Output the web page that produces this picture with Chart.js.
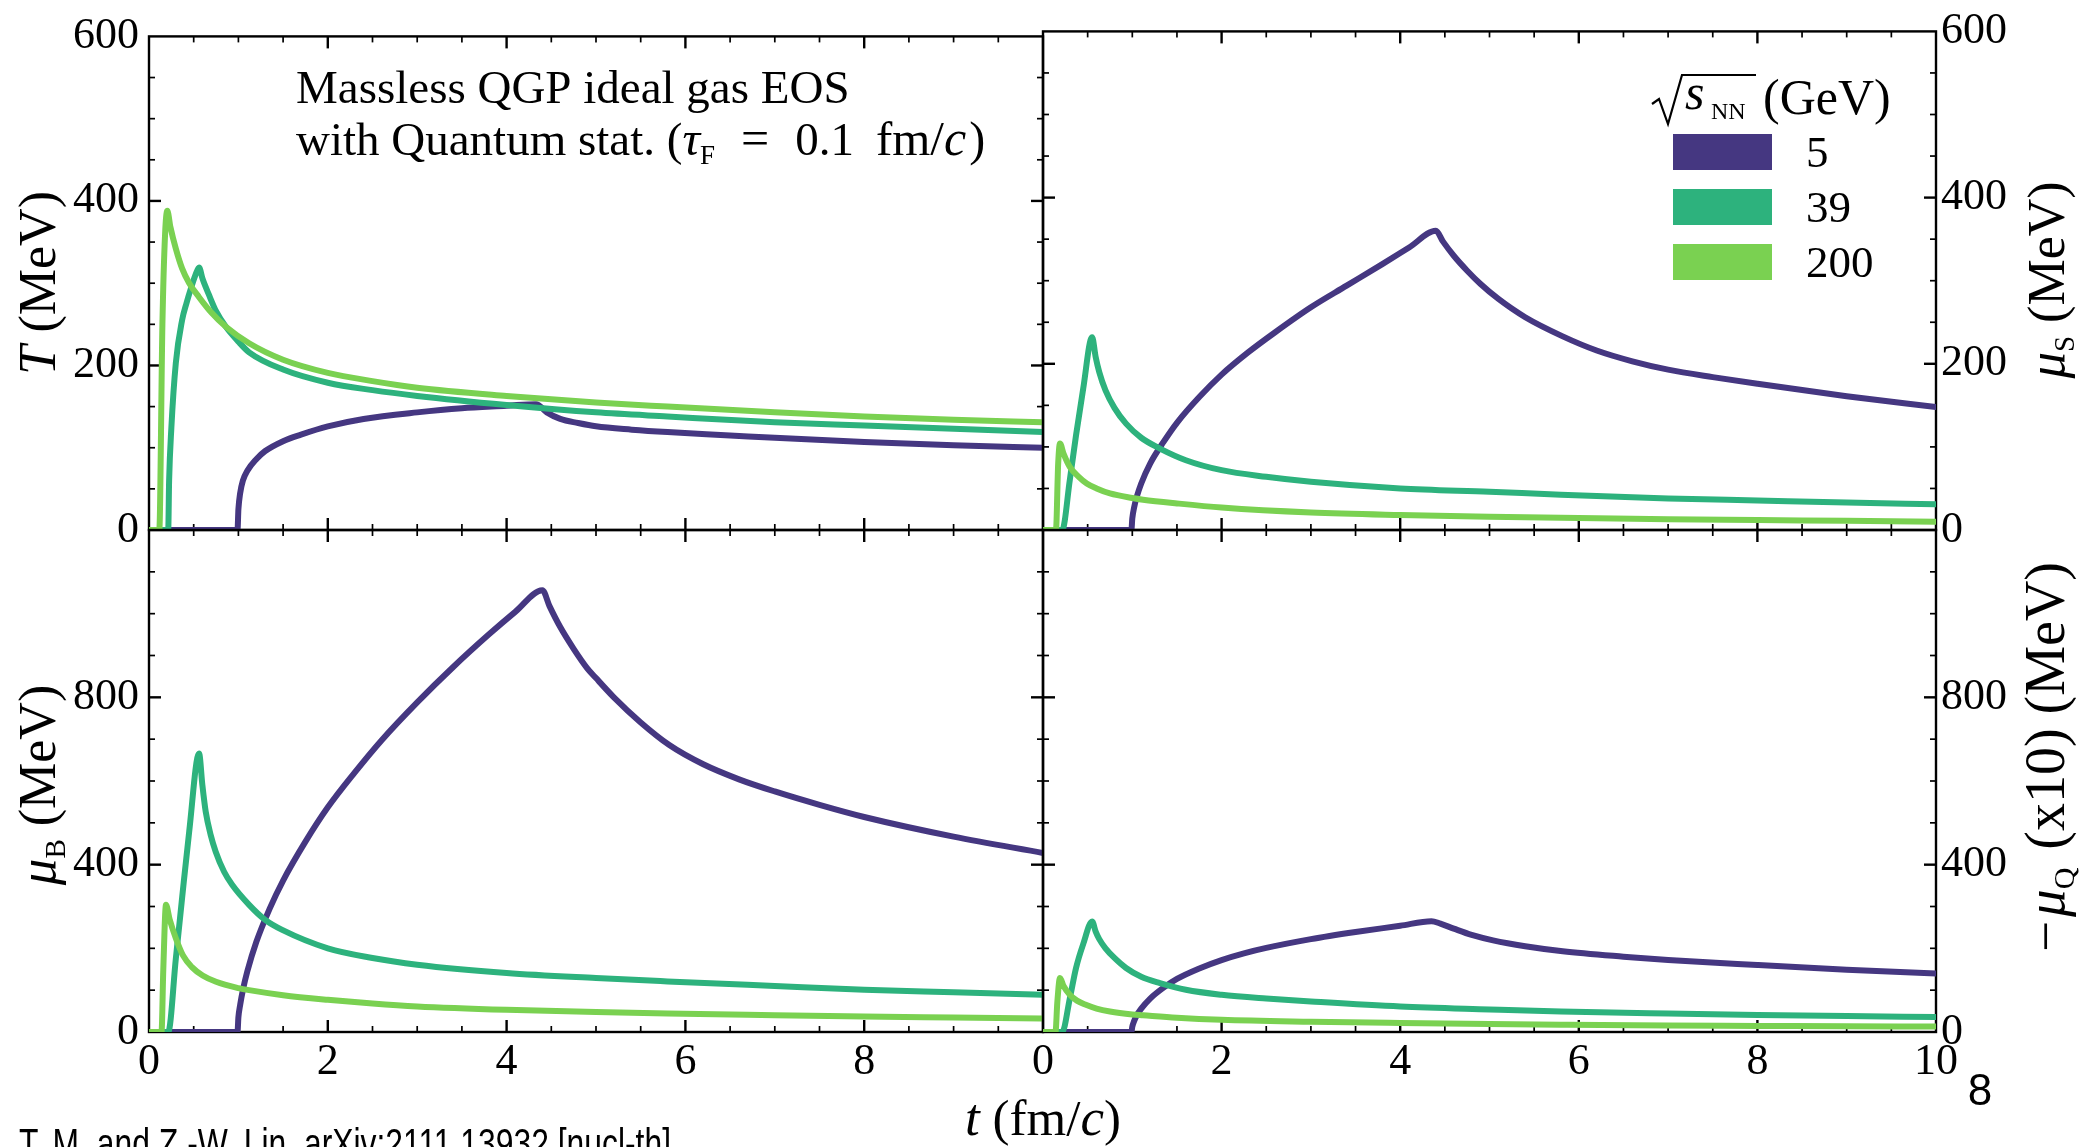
<!DOCTYPE html>
<html>
<head>
<meta charset="utf-8">
<script src="https://cdn.jsdelivr.net/npm/chart.js@4.4.1/dist/chart.umd.min.js"></script>
<style>
  html, body { margin: 0; padding: 0; background: #fff; }
  #wrap { position: relative; width: 2082px; height: 1147px; overflow: hidden; background: #fff; }
  #wrap canvas { position: absolute; left: 0; top: 0; }
</style>
</head>
<body>
<div id="wrap">
  <canvas id="cTL" width="2082" height="1147"></canvas>
  <canvas id="cTR" width="2082" height="1147"></canvas>
  <canvas id="cBL" width="2082" height="1147"></canvas>
  <canvas id="cBR" width="2082" height="1147"></canvas>
</div>
<script>
// sqrt(s_NN) energies and their colours
const ENERGIES = ['5', '39', '200'];
const COLORS = ['#453781', '#2db27d', '#7ad151'];

// tick labels
const X_TICKS_LEFT = [0, 2, 4, 6, 8];
const X_TICKS_RIGHT = [0, 2, 4, 6, 8, 10];
const Y_TICKS_TOP = [0, 200, 400, 600];
const Y_TICKS_BOTTOM = [0, 400, 800];

// T (MeV)
const tT5 = [0, 0.99, 1.0, 1.02, 1.05, 1.1, 1.2, 1.3, 1.5, 1.7, 2.0, 2.4, 3.0, 3.5, 4.0, 4.33, 4.45, 4.6, 4.8, 5.0, 5.4, 5.8, 6.5, 7, 8, 9, 10];
const valT5 = [0, 0, 25, 45, 60, 72, 86, 96, 108, 116, 126, 135, 143, 148, 151, 153, 143, 135, 130, 126, 122, 119, 115, 112, 107, 103, 100];
const tT39 = [0, 0.215, 0.225, 0.25, 0.3, 0.37, 0.42, 0.47, 0.52, 0.56, 0.6, 0.67, 0.75, 0.86, 1.0, 1.12, 1.5, 2.0, 2.5, 3.0, 4.0, 5.0, 5.8, 7, 8, 9, 10];
const valT39 = [0, 0, 60, 124, 203, 255, 276, 294, 310, 319, 305, 286, 266, 247, 229, 216, 195, 179, 170, 163, 152, 143, 138, 131, 127, 123, 119];
const tT200 = [0, 0.115, 0.15, 0.18, 0.205, 0.24, 0.3, 0.37, 0.45, 0.56, 0.7, 0.86, 1.12, 1.5, 2.0, 2.5, 3.0, 4.0, 5.0, 5.8, 7, 8, 9, 10];
const valT200 = [0, 0, 250, 360, 388, 368, 342, 318, 300, 283, 264, 247, 227, 207, 191, 181, 173, 163, 155, 150, 143, 138, 134, 131];

// mu_S (MeV)
const tS5 = [0, 0.99, 1.0, 1.02, 1.05, 1.1, 1.2, 1.35, 1.5, 1.75, 2.0, 2.3, 2.6, 3.0, 3.4, 3.8, 4.1, 4.4, 4.48, 4.6, 4.75, 4.9, 5.1, 5.4, 5.82, 6.2, 6.6, 7, 7.5, 8, 9, 10];
const valS5 = [0, 0, 14, 27, 40, 56, 80, 106, 129, 160, 187, 214, 238, 268, 294, 320, 340, 360, 347, 330, 312, 296, 278, 256, 233, 216, 203, 193, 184, 176, 161, 148];
const tS39 = [0, 0.215, 0.3, 0.37, 0.45, 0.55, 0.59, 0.63, 0.7, 0.8, 0.93, 1.1, 1.31, 1.6, 2.0, 2.5, 3.0, 4.0, 5.0, 5.8, 7, 8, 9, 10];
const valS39 = [0, 0, 60, 114, 170, 232, 208, 190, 168, 147, 128, 111, 98, 84, 72, 64, 58, 50, 46, 42.5, 38, 35.5, 33, 31];
const tS200 = [0, 0.145, 0.17, 0.19, 0.23, 0.3, 0.4, 0.49, 0.6, 0.75, 1.0, 1.12, 1.5, 2.0, 3.0, 4.0, 5.0, 5.8, 7, 8, 9, 10];
const valS200 = [0, 0, 80, 104, 92, 76, 64, 56, 50, 44, 38.5, 36.5, 32, 27, 21, 18, 16, 14.7, 13, 12, 11, 10];

// mu_B (MeV)
const tB5 = [0, 0.99, 1.0, 1.02, 1.05, 1.1, 1.2, 1.35, 1.5, 1.75, 2.0, 2.3, 2.6, 3.0, 3.4, 3.8, 4.1, 4.4, 4.48, 4.6, 4.75, 4.9, 5.0, 5.2, 5.5, 5.82, 6.2, 6.6, 7, 7.5, 8, 9, 10];
const valB5 = [0, 0, 35, 65, 100, 145, 215, 295, 362, 455, 537, 620, 697, 788, 872, 950, 1005, 1056, 1018, 968, 916, 870, 846, 800, 740, 686, 640, 604, 575, 543, 514, 467, 428];
const tB39 = [0, 0.215, 0.3, 0.37, 0.45, 0.56, 0.597, 0.634, 0.69, 0.746, 0.84, 0.93, 1.12, 1.3, 1.49, 2.0, 2.5, 3.0, 4.0, 5.0, 5.8, 7, 8, 9, 10];
const valB39 = [0, 0, 175, 320, 480, 666, 590, 527, 471, 431, 383, 352, 304, 268, 244, 200, 177, 161, 141, 129, 121, 110, 101, 95, 89];
const tB200 = [0, 0.14, 0.16, 0.19, 0.23, 0.3, 0.38, 0.48, 0.6, 0.75, 1.0, 1.12, 1.5, 2.0, 2.5, 3.0, 4.0, 5.0, 5.8, 7, 8, 9, 10];
const valB200 = [0, 0, 150, 304, 270, 224, 183, 155, 135, 120, 105, 100, 88, 77, 68, 61, 53, 48, 44, 40, 37, 34.5, 32];

// -mu_Q x10 (MeV)
const tQ5 = [0, 0.99, 1.0, 1.02, 1.05, 1.1, 1.2, 1.35, 1.5, 1.75, 2.0, 2.25, 2.5, 3.0, 3.5, 4.0, 4.35, 4.45, 4.6, 4.8, 5.04, 5.4, 5.82, 6.5, 7, 8, 9, 10];
const valQ5 = [0, 0, 13, 26, 40, 56, 80, 106, 127, 152, 172, 188, 201, 222, 239, 254, 265, 259, 247, 232, 219, 205, 193, 180, 172, 160, 149, 140];
const tQ39 = [0, 0.215, 0.3, 0.37, 0.45, 0.55, 0.59, 0.63, 0.7, 0.8, 0.93, 1.1, 1.31, 1.6, 2.0, 2.5, 3.0, 4.0, 5.0, 5.8, 7, 8, 9, 10];
const valQ39 = [0, 0, 80, 153, 210, 264, 240, 222, 200, 177, 153, 132, 117, 101, 89, 80, 73, 61, 54, 49, 44, 40.5, 38, 36];
const tQ200 = [0, 0.14, 0.16, 0.19, 0.23, 0.3, 0.38, 0.48, 0.6, 0.75, 1.0, 1.12, 1.5, 2.0, 3.0, 4.0, 5.0, 5.8, 7, 8, 9, 10];
const valQ200 = [0, 0, 70, 129, 110, 89, 75, 65, 56, 49, 42, 40, 34, 29, 24.5, 21.5, 19, 17.5, 15.5, 14.5, 13.5, 13];

// page geometry
const PAGE_W = 2082, PAGE_H = 1147;
const FRAME = { left: 149, mid: 1043, right: 1936, top: 25, midY: 530, bottom: 1032 };
const Y_AXIS_W = 110;
const X_AXIS_H = 60;
const SERIF = '"Liberation Serif", "DejaVu Serif", serif';
const SANS = '"Liberation Sans Narrow", "Liberation Sans", Arial, sans-serif';

function run(text, size, italic, dy, gap) {
    return { text, size, italic: !!italic, dy: dy || 0, gap: gap || 0 };
}

function runFont(r) {
    return (r.italic ? 'italic ' : '') + r.size + 'px ' + SERIF;
}

// draw a line of mixed-style text; y is the baseline, gap is extra space after a run
function drawRuns(ctx, runs, x, y, align, angle) {
    ctx.save();
    ctx.translate(x, y);
    if (angle) ctx.rotate(angle);
    let total = 0;
    runs.forEach(r => {
        ctx.font = runFont(r);
        r.w = ctx.measureText(r.text).width;
        total += r.w + r.gap;
    });
    let cx = align === 'center' ? -total / 2 : 0;
    ctx.fillStyle = '#000';
    ctx.textAlign = 'left';
    ctx.textBaseline = 'alphabetic';
    runs.forEach(r => {
        ctx.font = runFont(r);
        ctx.fillText(r.text, cx, r.dy);
        cx += r.w + r.gap;
    });
    ctx.restore();
}

// frame plus inward major/minor ticks on all four sides
const frameTicks = {
    id: 'frameTicks',
    beforeDatasetsDraw(chart, args, opts) {
        const { ctx, chartArea: a } = chart;
        const xs = chart.scales.x, ys = chart.scales.y;
        const seg = (x1, y1, x2, y2, w) => {
            ctx.lineWidth = w;
            ctx.beginPath();
            ctx.moveTo(x1, y1);
            ctx.lineTo(x2, y2);
            ctx.stroke();
        };
        ctx.save();
        ctx.strokeStyle = '#000';
        const nx = Math.round((xs.max - xs.min) / opts.xMinor);
        const kx = Math.round(opts.xMajor / opts.xMinor);
        for (let i = 1; i < nx; i++) {
            const px = xs.getPixelForValue(xs.min + i * opts.xMinor);
            const major = i % kx === 0;
            const len = major ? 12 : 6;
            const w = major ? 2.4 : 1.7;
            seg(px, a.bottom, px, a.bottom - len, w);
            seg(px, a.top, px, a.top + len, w);
        }
        const ny = Math.round((ys.max - ys.min) / opts.yMinor);
        const ky = Math.round(opts.yMajor / opts.yMinor);
        for (let i = 1; i < ny; i++) {
            const py = ys.getPixelForValue(ys.min + i * opts.yMinor);
            const major = i % ky === 0;
            const len = major ? 12 : 6;
            const w = major ? 2.4 : 1.7;
            seg(a.left, py, a.left + len, py, w);
            seg(a.right, py, a.right - len, py, w);
        }
        ctx.lineWidth = 2.4;
        ctx.strokeRect(a.left, a.top, a.right - a.left, a.bottom - a.top);
        ctx.restore();
    }
};

function drawTL(chart) {
    const ctx = chart.ctx;
    drawRuns(ctx, [run('T', 53, true), run(' (MeV)', 52)], 55, 283, 'center', -Math.PI / 2);
    drawRuns(ctx, [run('Massless QGP ideal gas EOS', 47)], 296, 103, 'left');
    drawRuns(ctx, [
        run('with Quantum stat. (', 47), run('\u03C4', 49, true), run('F', 27, false, 9, 26),
        run('=', 50, false, 0, 26), run('0.1', 47, false, 0, 22), run('fm/', 49),
        run('c', 50, true, 0, 3), run(')', 48)
    ], 296, 155, 'left');
}

function drawTR(chart) {
    const ctx = chart.ctx;
    drawRuns(ctx, [run('\u03BC', 53, true), run('S', 29, false, 10), run(' (MeV)', 52)], 2064, 280, 'center', -Math.PI / 2);

    // legend title: sqrt(s_NN) (GeV)
    ctx.save();
    ctx.strokeStyle = '#000';
    ctx.lineWidth = 2.2;
    ctx.lineJoin = 'miter';
    ctx.beginPath();
    ctx.moveTo(1652, 104);
    ctx.lineTo(1659, 99);
    ctx.lineTo(1668, 124);
    ctx.lineTo(1682, 75);
    ctx.lineTo(1756, 75);
    ctx.stroke();
    ctx.restore();
    drawRuns(ctx, [run('s', 50, true)], 1685, 109, 'left');
    drawRuns(ctx, [run('NN', 24)], 1711, 119, 'left');
    drawRuns(ctx, [run('(GeV)', 50)], 1763, 114, 'left');

    chart.data.datasets.forEach((ds, i) => {
        const top = 134 + i * 55;
        ctx.fillStyle = ds.borderColor;
        ctx.fillRect(1673, top, 99, 36);
        drawRuns(ctx, [run(ds.label, 45)], 1806, top + 33, 'left');
    });
}

function drawBL(chart) {
    const ctx = chart.ctx;
    drawRuns(ctx, [run('\u03BC', 53, true), run('B', 29, false, 10), run(' (MeV)', 52)], 55, 785, 'center', -Math.PI / 2);
    drawRuns(ctx, [run('t', 53, true), run(' (fm/', 51), run('c', 53, true), run(')', 51)], 1043, 1135, 'center');

    ctx.save();
    ctx.fillStyle = '#000';
    ctx.textAlign = 'left';
    ctx.textBaseline = 'alphabetic';
    ctx.font = '42px ' + SANS;
    ctx.fillText('T. M. and Z.-W. Lin, arXiv:2111.13932 [nucl-th]', 19, 1158, 652);
    ctx.restore();
}

function drawBR(chart) {
    const ctx = chart.ctx;
    drawRuns(ctx, [
        run('\u2212', 55, false, 0, 4), run('\u03BC', 55, true), run('Q', 30, false, 10, 4),
        run(' (x10) (MeV)', 56)
    ], 2064, 757, 'center', -Math.PI / 2);

    ctx.save();
    ctx.fillStyle = '#000';
    ctx.textAlign = 'center';
    ctx.textBaseline = 'alphabetic';
    ctx.font = '44px "Liberation Sans", Arial, sans-serif';
    ctx.fillText('8', 1980, 1105);
    ctx.restore();
}

const PANELS = [
    { id: 'cTL', col: 0, row: 0, ymax: 600, yMajor: 200, yMinor: 50, yTicks: Y_TICKS_TOP, xTicks: null,
      series: [[tT5, valT5], [tT39, valT39], [tT200, valT200]], draw: drawTL },
    { id: 'cTR', col: 1, row: 0, ymax: 600, yMajor: 200, yMinor: 50, yTicks: Y_TICKS_TOP, xTicks: null,
      series: [[tS5, valS5], [tS39, valS39], [tS200, valS200]], draw: drawTR },
    { id: 'cBL', col: 0, row: 1, ymax: 1200, yMajor: 400, yMinor: 100, yTicks: Y_TICKS_BOTTOM, xTicks: X_TICKS_LEFT,
      series: [[tB5, valB5], [tB39, valB39], [tB200, valB200]], draw: drawBL },
    { id: 'cBR', col: 1, row: 1, ymax: 1200, yMajor: 400, yMinor: 100, yTicks: Y_TICKS_BOTTOM, xTicks: X_TICKS_RIGHT,
      series: [[tQ5, valQ5], [tQ39, valQ39], [tQ200, valQ200]], draw: drawBR },
];

function panelPadding(p) {
    return {
        left: p.col === 0 ? FRAME.left - Y_AXIS_W : FRAME.mid,
        right: p.col === 0 ? PAGE_W - FRAME.mid : PAGE_W - FRAME.right - Y_AXIS_W,
        top: p.row === 0 ? FRAME.top : FRAME.midY,
        bottom: PAGE_H - (p.row === 0 ? FRAME.midY : FRAME.bottom) - X_AXIS_H,
    };
}

const tickFont = { family: SERIF, size: 44 };

PANELS.forEach(p => {
    new Chart(document.getElementById(p.id), {
        type: 'line',
        data: {
            datasets: p.series.map(([ts, vs], i) => ({
                label: ENERGIES[i],
                data: ts.map((t, j) => ({ x: t, y: vs[j] })),
                borderColor: COLORS[i],
                backgroundColor: COLORS[i],
                borderWidth: 6,
                pointRadius: 0,
                fill: false,
                cubicInterpolationMode: 'monotone',
                borderJoinStyle: 'round',
                borderCapStyle: 'round',
                order: ENERGIES.length - 1 - i,
            }))
        },
        options: {
            responsive: false,
            animation: false,
            events: [],
            layout: { padding: panelPadding(p) },
            plugins: {
                legend: { display: false },
                tooltip: { enabled: false },
                frameTicks: { xMinor: 0.5, xMajor: 2, yMinor: p.yMinor, yMajor: p.yMajor },
            },
            scales: {
                x: {
                    type: 'linear',
                    position: 'bottom',
                    min: 0,
                    max: 10,
                    grid: { display: false, drawTicks: false },
                    border: { display: false },
                    afterBuildTicks: s => { s.ticks = (p.xTicks || []).map(v => ({ value: v })); },
                    ticks: {
                        display: !!p.xTicks,
                        autoSkip: false,
                        maxRotation: 0,
                        padding: 4,
                        color: '#000',
                        font: tickFont,
                        callback: v => String(v),
                    },
                    afterFit: s => { s.height = X_AXIS_H; },
                },
                y: {
                    type: 'linear',
                    position: p.col === 0 ? 'left' : 'right',
                    min: 0,
                    max: p.ymax,
                    grid: { display: false, drawTicks: false },
                    border: { display: false },
                    afterBuildTicks: s => { s.ticks = p.yTicks.map(v => ({ value: v })); },
                    ticks: {
                        autoSkip: false,
                        padding: p.col === 0 ? 10 : 5,
                        color: '#000',
                        font: tickFont,
                        callback: v => String(v),
                    },
                    afterFit: s => { s.width = Y_AXIS_W; },
                },
            },
        },
        plugins: [frameTicks, { id: 'text_' + p.id, afterDraw: p.draw }],
    });
});
</script>
</body>
</html>
